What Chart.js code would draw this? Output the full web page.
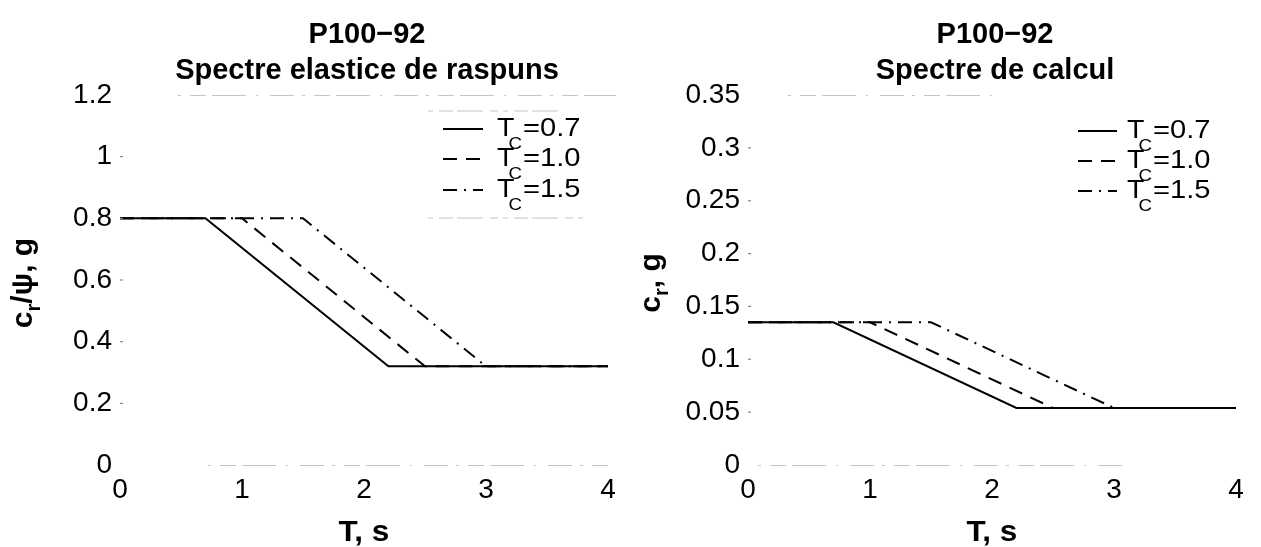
<!DOCTYPE html>
<html>
<head>
<meta charset="utf-8">
<script src="https://cdn.jsdelivr.net/npm/chart.js@4/dist/chart.umd.min.js"></script>
<style>
  html, body { margin: 0; padding: 0; background: #fff; }
  #wrap { position: relative; width: 1261px; height: 547px; overflow: hidden; }
  .panel { position: absolute; top: 0; height: 547px; }
</style>
</head>
<body>
<div id="wrap">
  <div class="panel" style="left:0;width:630px"><canvas id="elastic" width="630" height="547"></canvas></div>
  <div class="panel" style="left:628px;width:633px"><canvas id="design" width="633" height="547"></canvas></div>
</div>
<script>
// Periods T (s) at the corner points of each spectrum, one list per corner period Tc
const periodsTc07 = [0, 0.7, 2.2, 4];
const periodsTc10 = [0, 1.0, 2.5, 4];
const periodsTc15 = [0, 1.5, 3.0, 4];

// Elastic response spectrum ordinates c_r/psi (g)
const elasticTc07 = [0.8, 0.8, 0.32, 0.32];
const elasticTc10 = [0.8, 0.8, 0.32, 0.32];
const elasticTc15 = [0.8, 0.8, 0.32, 0.32];

// Design spectrum ordinates c_r (g)
const designTc07 = [0.135, 0.135, 0.054, 0.054];
const designTc10 = [0.135, 0.135, 0.054, 0.054];
const designTc15 = [0.135, 0.135, 0.054, 0.054];

// Legend values of Tc
const tcLabels = ['0.7', '1.0', '1.5'];

// Axis ranges / tick steps
const periodTicks = { min: 0, max: 4, step: 1 };
const elasticTicks = { min: 0, max: 1.2, step: 0.2 };
const designTicks = { min: 0, max: 0.35, step: 0.05 };

const FONT = "'Liberation Sans', Arial, Helvetica, sans-serif";
const lineStyles = [[], [14, 9], [14, 7, 2, 7]];

function toPoints(xs, ys) { return xs.map((x, i) => ({ x: x, y: ys[i] })); }
function shortNumber(v) { return String(Number(v.toFixed(3))); }

function makeDatasets(seriesList) {
  return seriesList.map((s, i) => ({
    label: 'Tc=' + tcLabels[i],
    data: toPoints(s[0], s[1]),
    borderColor: '#000',
    borderWidth: 2,
    borderDash: lineStyles[i],
    pointRadius: 0,
    fill: false,
    tension: 0
  }));
}

// Text drawn with an optional horizontal stretch
function stretchedText(ctx, text, x, y, font, sx, align) {
  ctx.save();
  ctx.font = font;
  const w = ctx.measureText(text).width * sx;
  const left = align === 'center' ? x - w / 2 : x;
  ctx.translate(left, y);
  ctx.scale(sx, 1);
  ctx.textAlign = 'left';
  ctx.fillText(text, 0, 0);
  ctx.restore();
  return w;
}

const decor = {
  id: 'decor',
  afterDraw(chart, args, o) {
    const ctx = chart.ctx;
    const a = chart.chartArea;
    const cx = (a.left + a.right) / 2 + 3;
    ctx.save();
    ctx.fillStyle = '#000';
    ctx.textBaseline = 'alphabetic';

    // faint frame lines (top and bottom)
    ctx.strokeStyle = '#c4c4c4';
    ctx.lineWidth = 1.2;
    ctx.setLineDash([3, 9, 16, 6, 34, 10, 2, 12, 24, 8]);
    ctx.beginPath();
    ctx.moveTo(a.left + o.topFrom, a.top + 0.5); ctx.lineTo(a.left + o.topTo, a.top + 0.5);
    ctx.moveTo(a.left + o.bottomFrom, a.bottom + 0.5); ctx.lineTo(a.left + o.bottomTo, a.bottom + 0.5);
    ctx.stroke();
    ctx.setLineDash([]);

    // small inward tick marks on the y axis
    const ys = chart.scales.y;
    ctx.strokeStyle = '#888';
    ctx.lineWidth = 1.2;
    ys.ticks.forEach((t, i) => {
      if (i === 0 || i === ys.ticks.length - 1) return;
      const py = ys.getPixelForValue(t.value);
      ctx.beginPath(); ctx.moveTo(a.left, py); ctx.lineTo(a.left + 3, py); ctx.stroke();
    });

    // title
    o.title.forEach((line, i) => {
      stretchedText(ctx, line, cx, 43 + i * 36, 'bold 29px ' + FONT, 1.0, 'center');
    });

    // x axis title
    stretchedText(ctx, 'T, s', cx - 3, 541, 'bold 30px ' + FONT, 1.05, 'center');

    // y axis title with subscript, rotated
    ctx.save();
    ctx.translate(o.yLabelX, (a.top + a.bottom) / 2 + 3);
    ctx.rotate(-Math.PI / 2);
    const big = 'bold 30px ' + FONT, small = 'bold 20px ' + FONT;
    let total = 0;
    o.yLabel.forEach(p => { ctx.font = p.sub ? small : big; total += ctx.measureText(p.t).width; });
    let px = -total / 2;
    o.yLabel.forEach(p => {
      ctx.font = p.sub ? small : big;
      ctx.fillText(p.t, px, p.sub ? 18 : 10);
      px += ctx.measureText(p.t).width;
    });
    ctx.restore();

    // legend
    const L = o.legend;
    chart.data.datasets.forEach((ds, i) => {
      const base = L.baselines[i];
      ctx.strokeStyle = '#000';
      ctx.lineWidth = 2;
      ctx.setLineDash(ds.borderDash);
      ctx.beginPath();
      ctx.moveTo(L.lineX0, base - 7); ctx.lineTo(L.lineX1, base - 7);
      ctx.stroke();
      ctx.setLineDash([]);
      const tw = stretchedText(ctx, 'T', L.textX, base, '26px ' + FONT, 1.1, 'left');
      const cw = stretchedText(ctx, 'C', L.textX + tw - 6, base + 13, '17px ' + FONT, 1.1, 'left');
      stretchedText(ctx, '=' + tcLabels[i], L.textX + tw - 6 + cw + 1, base, '26px ' + FONT, 1.12, 'left');
    });
    if (L.box) {
      ctx.strokeStyle = '#c4c4c4';
      ctx.lineWidth = 1.2;
      ctx.setLineDash([5, 6, 14, 4, 26, 7, 8, 5]);
      ctx.beginPath();
      ctx.moveTo(L.box.x0, L.box.top); ctx.lineTo(L.box.x1 - 25, L.box.top);
      ctx.moveTo(L.box.x0, L.box.bottom); ctx.lineTo(L.box.x1, L.box.bottom);
      ctx.stroke();
      ctx.setLineDash([]);
    }
    ctx.restore();
  }
};

function buildChart(id, datasets, yTicks, deco, rightPad) {
  return new Chart(document.getElementById(id), {
    type: 'line',
    data: { datasets: datasets },
    options: {
      responsive: false,
      animation: false,
      devicePixelRatio: 1,
      layout: { padding: { left: 0, right: rightPad, top: 95, bottom: 0 } },
      plugins: {
        legend: { display: false },
        title: { display: false },
        tooltip: { enabled: false },
        decor: deco
      },
      scales: {
        x: {
          type: 'linear',
          min: periodTicks.min, max: periodTicks.max,
          ticks: { stepSize: periodTicks.step, color: '#000', font: { family: FONT, size: 28 }, padding: 8,
                   callback: v => shortNumber(v) },
          grid: { display: false, drawTicks: false },
          border: { display: false },
          afterFit: s => { s.height = 82; }
        },
        y: {
          min: yTicks.min, max: yTicks.max,
          ticks: { stepSize: yTicks.step, color: '#000', font: { family: FONT, size: 28 }, padding: 8,
                   callback: v => shortNumber(v) },
          grid: { display: false, drawTicks: false },
          border: { display: false },
          afterFit: s => { s.width = 120; }
        }
      }
    },
    plugins: [decor]
  });
}

buildChart('elastic',
  makeDatasets([[periodsTc07, elasticTc07], [periodsTc10, elasticTc10], [periodsTc15, elasticTc15]]),
  elasticTicks,
  {
    title: ['P100\u221292', 'Spectre elastice de raspuns'],
    yLabel: [{ t: 'c' }, { t: 'r', sub: true }, { t: '/\u03C8, g' }],
    yLabelX: 22,
    topFrom: 58, topTo: 496, bottomFrom: 88, bottomTo: 488,
    legend: { lineX0: 443, lineX1: 483, textX: 497, baselines: [136, 166, 197],
              box: { x0: 428, x1: 585, top: 111, bottom: 218 } }
  }, 22);

buildChart('design',
  makeDatasets([[periodsTc07, designTc07], [periodsTc10, designTc10], [periodsTc15, designTc15]]),
  designTicks,
  {
    title: ['P100\u221292', 'Spectre de calcul'],
    yLabel: [{ t: 'c' }, { t: 'r', sub: true }, { t: ', g' }],
    yLabelX: 22,
    topFrom: 40, topTo: 250, bottomFrom: 10, bottomTo: 380,
    legend: { lineX0: 450, lineX1: 489, textX: 499, baselines: [138, 168, 198], box: null }
  }, 25);
</script>
</body>
</html>
